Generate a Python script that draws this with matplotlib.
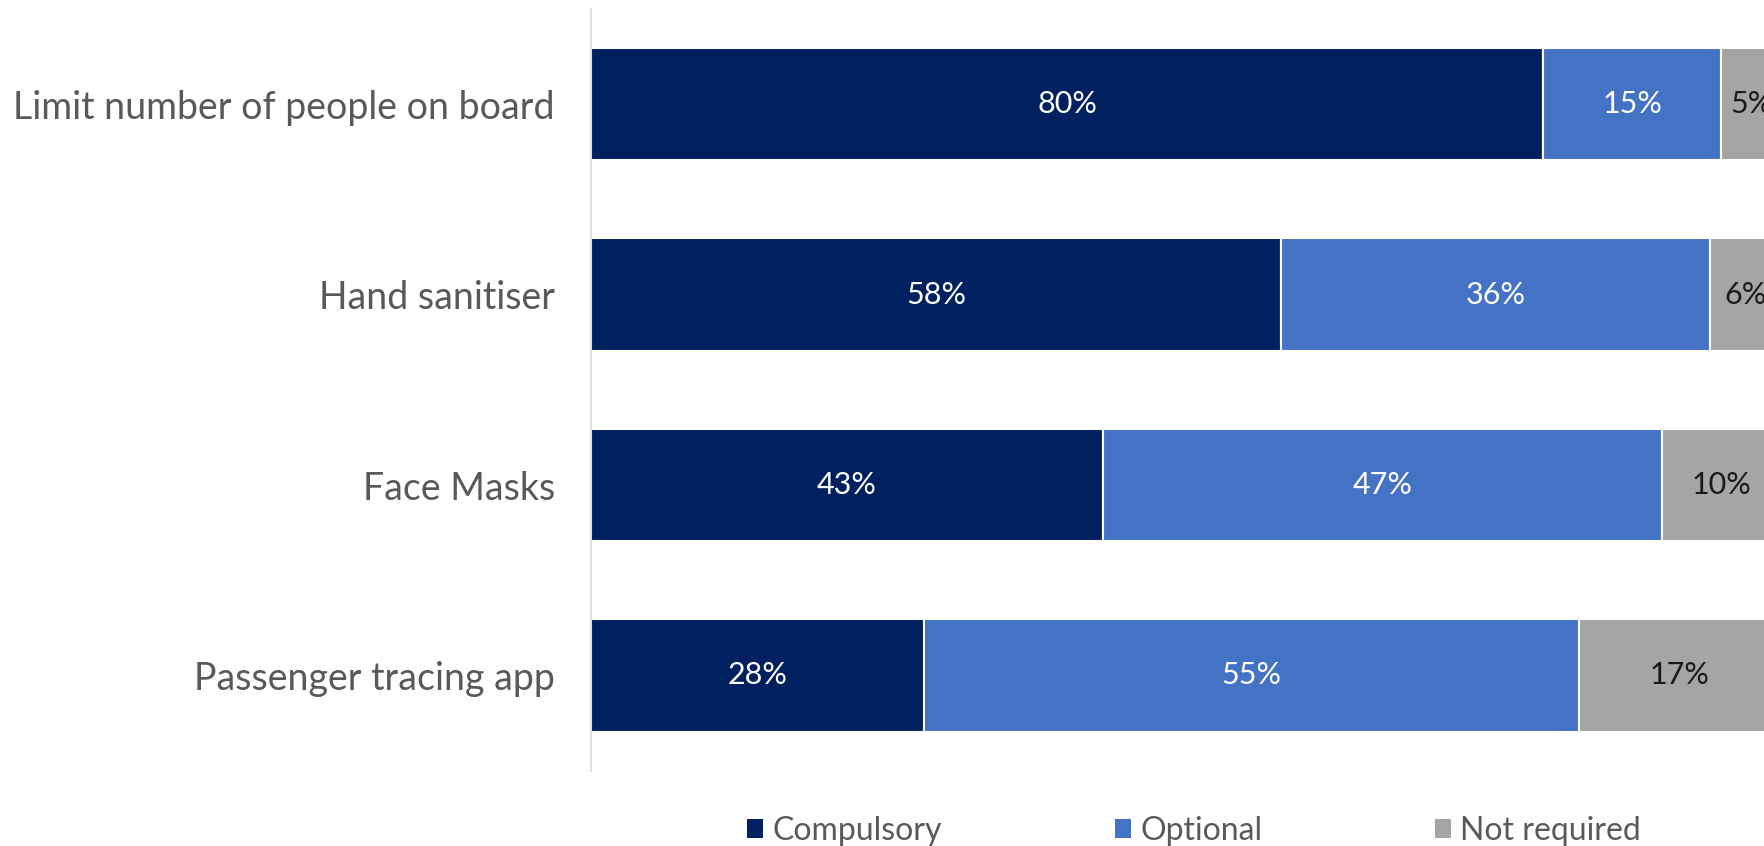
import matplotlib
matplotlib.use("Agg")
import matplotlib.pyplot as plt
from matplotlib.patches import Patch
import numpy as np

categories = [
    "Limit number of people on board",
    "Hand sanitiser",
    "Face Masks",
    "Passenger tracing app",
]
series_names = ["Compulsory", "Optional", "Not required"]
compulsory = [80, 58, 43, 28]
optional = [15, 36, 47, 55]
not_required = [5, 6, 10, 17]

colors = ["#002060", "#4472C4", "#A5A5A5"]
label_colors = ["white", "white", "#1a1a1a"]

plt.rcParams["font.family"] = ["Lato", "DejaVu Sans"]

fig = plt.figure(figsize=(17.64, 8.46), dpi=100)
ax = fig.add_axes([0.335, 0.089, 0.6746, 0.9004])

y = np.arange(len(categories))
left = np.zeros(len(categories))
for name, vals, col, lcol in zip(series_names, [compulsory, optional, not_required], colors, label_colors):
    bars = ax.barh(y, vals, left=left, height=0.59, color=col,
                   edgecolor="white", linewidth=1.5, label=name)
    ax.bar_label(bars, labels=[f"{v}%" for v in vals], label_type="center",
                 color=lcol, fontsize=22)
    left += np.array(vals)

ax.set_xlim(0, 100)
ax.set_ylim(len(categories) - 0.5, -0.5)
ax.set_yticks(y)
ax.set_yticklabels(categories, fontsize=27, color="#595959")
ax.tick_params(axis="y", length=0, pad=26)
ax.set_xticks([])
for side in ["top", "right", "bottom"]:
    ax.spines[side].set_visible(False)
ax.spines["left"].set_color("#d9d9d9")
ax.spines["left"].set_linewidth(1.2)

handles = [Patch(facecolor=c, edgecolor="none") for c in colors]
fig.legend(handles, series_names, loc="center", bbox_to_anchor=(0.677, 0.018),
           ncol=3, frameon=False, fontsize=23, labelcolor="#595959",
           handlelength=0.5, handleheight=0.5, handletextpad=0.3,
           columnspacing=5.4)

fig.savefig("out.png", dpi=100)
